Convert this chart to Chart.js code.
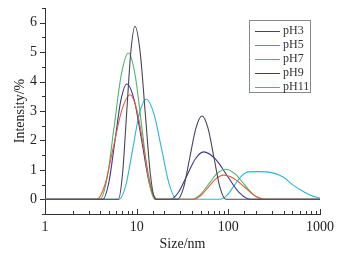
<!DOCTYPE html>
<html>
<head>
<meta charset="utf-8">
<script src="https://cdn.jsdelivr.net/npm/chart.js@4/dist/chart.umd.min.js"></script>
<style>
  body { margin: 0; background: #fff; }
  #wrap { position: relative; width: 347px; height: 257px; }
  #legend {
    position: absolute; left: 249px; top: 20px; width: 62px; height: 73px;
    border: 1px solid #888; box-sizing: border-box; padding-top: 2px;
    font-family: "Liberation Serif", serif; font-size: 12px; color: #333;
  }
  #legend div { height: 14px; line-height: 14px; white-space: nowrap; }
  #legend span.ln { display: inline-block; width: 25px; height: 1px; vertical-align: middle; margin: 0 3px 0 5px; }
</style>
</head>
<body>
<div id="wrap">
  <canvas id="chart1" width="347" height="257"></canvas>
  <div id="legend"></div>
</div>
<script>
// dados (tamanho em nm, intensidade em %)
const seriesNames = ['pH3', 'pH5', 'pH7', 'pH9', 'pH11'];
const seriesColors = ['#474656', '#e0603a', '#4db36c', '#3d3590', '#2ab6d8'];

const sizePH3 = [1, 6.31, 7.01, 7.78, 8.64, 9.59, 10.9, 12.4, 14.1, 16.0, 28.0, 32.6, 38.0, 44.3, 51.6, 60.0, 69.7, 80.9, 94.0, 1000];
const intPH3  = [0, 0, 0.86, 2.94, 5.02, 5.88, 5.02, 2.94, 0.86, 0, 0, 0.41, 1.42, 2.42, 2.83, 2.42, 1.42, 0.41, 0, 0];

const sizePH5 = [1, 3.67, 4.53, 5.58, 6.89, 8.49, 10.05, 11.9, 14.1, 16.6, 41.0, 49.8, 60.5, 73.5, 89.1, 116, 151, 195, 254, 1000];
const intPH5  = [0, 0, 0.52, 1.78, 3.03, 3.55, 3.03, 1.78, 0.52, 0, 0, 0.12, 0.41, 0.70, 0.82, 0.70, 0.41, 0.12, 0, 0];

const sizePH7 = [1, 3.98, 4.76, 5.69, 6.80, 8.13, 9.60, 11.35, 13.4, 15.85, 39.8, 49.2, 60.8, 75.0, 92.7, 117.5, 149, 189, 240, 1000];
const intPH7  = [0, 0, 0.73, 2.49, 4.24, 4.97, 4.24, 2.49, 0.73, 0, 0, 0.15, 0.51, 0.87, 1.02, 0.87, 0.51, 0.15, 0, 0];

const sizePH9 = [1, 4.27, 4.97, 5.78, 6.71, 7.82, 9.44, 11.4, 13.7, 16.6, 23.2, 28.6, 35.4, 43.6, 53.8, 72.1, 96.8, 130, 174, 1000];
const intPH9  = [0, 0, 0.57, 1.96, 3.35, 3.92, 3.35, 1.96, 0.57, 0, 0, 0.24, 0.81, 1.37, 1.61, 1.37, 0.81, 0.24, 0, 0];

const sizePH11 = [1, 6.46, 7.65, 9.06, 10.7, 12.7, 15.4, 18.7, 22.7, 27.5, 81.3, 97.2, 116, 139, 166, 215, 264, 400, 500, 630, 800, 1000];
const intPH11  = [0, 0, 0.50, 1.71, 2.91, 3.41, 2.91, 1.71, 0.50, 0, 0, 0.14, 0.47, 0.79, 0.93, 0.94, 0.93, 0.75, 0.50, 0.30, 0.13, 0.04];

const sizes = [sizePH3, sizePH5, sizePH7, sizePH9, sizePH11];
const intensities = [intPH3, intPH5, intPH7, intPH9, intPH11];

const yTickValues = [-0.5, 0, 0.5, 1, 1.5, 2, 2.5, 3, 3.5, 4, 4.5, 5, 5.5, 6, 6.5];

function toPoints(xs, ys) {
    return xs.map((x, i) => ({ x: x, y: ys[i] }));
}

const datasets = seriesNames.map((name, i) => ({
    label: name,
    data: toPoints(sizes[i], intensities[i]),
    borderColor: seriesColors[i],
    borderWidth: 1.1,
    pointRadius: 0,
    fill: false,
    cubicInterpolationMode: 'monotone'
}));

// marcas dos eixos (x para dentro, y para fora)
const tickMarks = {
    id: 'tickMarks',
    afterDraw(chart) {
        const ctx = chart.ctx;
        const xs = chart.scales.x;
        const ys = chart.scales.y;
        const area = chart.chartArea;
        ctx.save();
        ctx.strokeStyle = '#333';
        ctx.lineWidth = 1;
        ctx.beginPath();
        xs.ticks.forEach(t => {
            const px = Math.round(xs.getPixelForValue(t.value)) + 0.5;
            const major = Math.abs(Math.log10(t.value) - Math.round(Math.log10(t.value))) < 1e-9;
            const len = major ? 5 : 3;
            ctx.moveTo(px, area.bottom);
            ctx.lineTo(px, area.bottom - len);
        });
        yTickValues.forEach(v => {
            const py = Math.round(ys.getPixelForValue(v)) + 0.5;
            const len = Number.isInteger(v) ? 5 : 3;
            ctx.moveTo(area.left - len, py);
            ctx.lineTo(area.left, py);
        });
        ctx.stroke();
        ctx.restore();
    }
};

var ctx1 = document.getElementById('chart1').getContext('2d');
var chart1 = new Chart(ctx1, {
    type: 'line',
    data: { datasets: datasets },
    options: {
        responsive: false,
        animation: false,
        layout: { padding: { top: 8, right: 27, left: 0, bottom: 0 } },
        plugins: { legend: { display: false }, tooltip: { enabled: false } },
        scales: {
            x: {
                type: 'logarithmic',
                min: 1,
                max: 1000,
                grid: { display: false, drawTicks: false },
                border: { display: true, color: '#333', width: 1 },
                ticks: {
                    padding: 5,
                    autoSkip: false,
                    maxRotation: 0,
                    color: '#222',
                    font: { family: 'Liberation Serif', size: 14 },
                    callback: function (v) {
                        const l = Math.log10(v);
                        return Math.abs(l - Math.round(l)) < 1e-9 ? String(v) : '';
                    }
                },
                title: {
                    display: true,
                    text: 'Size/nm',
                    color: '#222',
                    font: { family: 'Liberation Serif', size: 14 },
                    padding: { top: 0, bottom: 4 }
                },
                afterFit: function (scale) { scale.height = 43; }
            },
            y: {
                type: 'linear',
                min: -0.5,
                max: 6.5,
                grid: { display: false, drawTicks: false },
                border: { display: true, color: '#333', width: 1 },
                ticks: {
                    stepSize: 0.5,
                    padding: 8,
                    autoSkip: false,
                    color: '#222',
                    font: { family: 'Liberation Serif', size: 14 },
                    callback: function (v) { return Number.isInteger(v) && v >= 0 ? String(v) : ''; }
                },
                title: {
                    display: true,
                    text: 'Intensity/%',
                    color: '#222',
                    font: { family: 'Liberation Serif', size: 14 },
                    padding: { top: 12, bottom: 0 }
                },
                afterFit: function (scale) {
                    scale.width = 45;
                    scale.paddingTop = 0;
                    scale.paddingBottom = 0;
                }
            }
        }
    },
    plugins: [tickMarks]
});

// legenda em caixa
var legend = document.getElementById('legend');
seriesNames.forEach((name, i) => {
    const row = document.createElement('div');
    row.innerHTML = '<span class="ln" style="background:' + seriesColors[i] + '"></span>' + name;
    legend.appendChild(row);
});
</script>
</body>
</html>
